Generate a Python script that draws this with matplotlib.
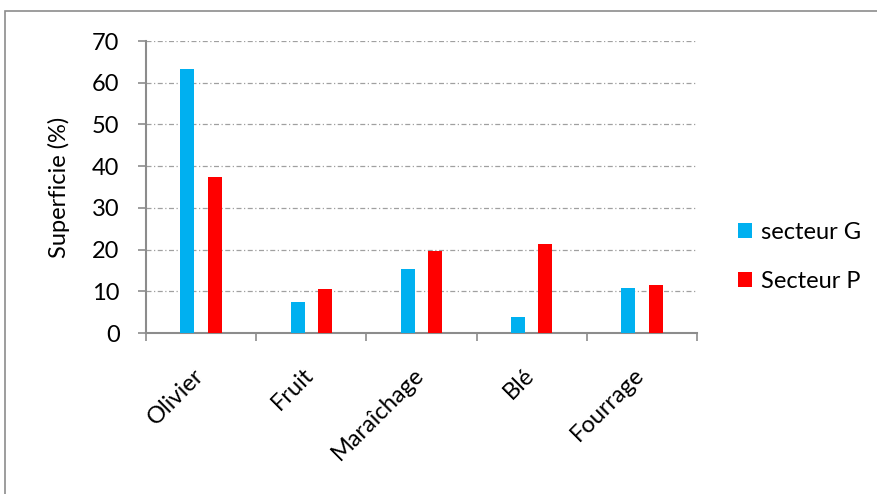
import numpy as np
import matplotlib
matplotlib.use('Agg')
import matplotlib.pyplot as plt
from matplotlib.patches import Rectangle

plt.rcParams['font.family'] = ['Lato', 'DejaVu Sans']

cultures = ['Olivier', 'Fruit', 'Maraîchage', 'Blé', 'Fourrage']
secteur_g = [63.2, 7.4, 15.3, 3.8, 10.7]
secteur_p = [37.4, 10.5, 19.7, 21.4, 11.6]
y_ticks = [0, 10, 20, 30, 40, 50, 60, 70]

grey = '#8c8c8c'
fs = 17

fig = plt.figure(figsize=(8.78, 4.94), dpi=100)
ax = fig.add_axes([146 / 878, 1 - 333 / 494, (697 - 146) / 878, (333 - 41) / 494])

x = np.arange(len(cultures))
w = 0.127
ax.bar(x - 0.125, secteur_g, w, color='#00b0f0', label='secteur G', zorder=3)
ax.bar(x + 0.125, secteur_p, w, color='#ff0000', label='Secteur P', zorder=3)

ax.set_xlim(-0.5, len(cultures) - 0.5)
ax.set_ylim(0, 70)
ax.set_yticks(y_ticks)
ax.tick_params(axis='y', labelsize=fs, length=6, width=1.2, color=grey, pad=13)
ax.yaxis.grid(True, color='#a0a0a0', linestyle=(0, (4, 2, 1, 2)), linewidth=0.9, zorder=0)

# category ticks sit on the boundaries between groups
ax.set_xticks(np.arange(len(cultures) + 1) - 0.5)
ax.set_xticklabels([])
ax.tick_params(axis='x', length=6, width=1.2, color=grey)
for i, name in enumerate(cultures):
    ax.text(i - 0.01, -9.3, name, rotation=45, rotation_mode='anchor',
            ha='right', va='center', fontsize=fs)

for side in ['top', 'right']:
    ax.spines[side].set_visible(False)
for side in ['left', 'bottom']:
    ax.spines[side].set_color(grey)
    ax.spines[side].set_linewidth(1.5)

ax.set_ylabel('Superficie (%)', fontsize=fs, labelpad=16)

ax.legend(loc='center left', bbox_to_anchor=(1.035, 0.26), frameon=False,
          fontsize=fs, handlelength=0.6, handleheight=0.6, handletextpad=0.4,
          labelspacing=1.2)

# outer chart frame
fig.patches.append(Rectangle((5 / 878, -0.1), 1.1, 1.1 - 11 / 494,
                             transform=fig.transFigure, fill=False,
                             edgecolor='#8c8c8c', linewidth=1.2))

fig.savefig('out.png', dpi=100)
